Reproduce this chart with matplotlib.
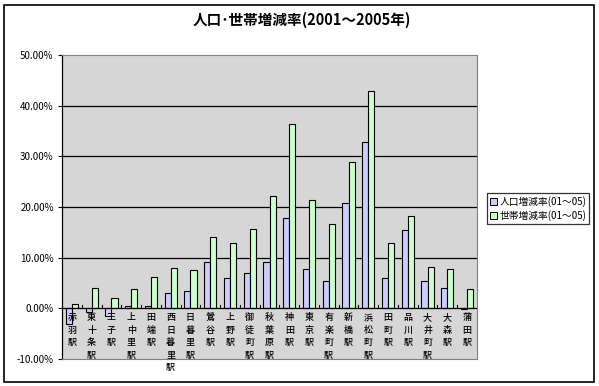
import numpy as np
import matplotlib
matplotlib.use("Agg")
import matplotlib.pyplot as plt
from matplotlib.patches import Rectangle
from matplotlib.ticker import FuncFormatter

plt.rcParams['font.family'] = ['Noto Sans CJK JP', 'DejaVu Sans']
plt.rcParams['font.size'] = 7

stations = ["赤羽駅", "東十条駅", "王子駅", "上中里駅", "田端駅", "西日暮里駅", "日暮里駅",
            "鶯谷駅", "上野駅", "御徒町駅", "秋葉原駅", "神田駅", "東京駅", "有楽町駅",
            "新橋駅", "浜松町駅", "田町駅", "品川駅", "大井町駅", "大森駅", "蒲田駅"]
# percent values
pop_rate = [-3.0, -0.8, -1.5, 0.4, 0.4, 3.0, 3.4, 9.1, 5.9, 6.9, 9.1, 17.8, 7.7, 5.3,
            20.8, 32.9, 5.9, 15.4, 5.3, 4.1, -0.2]
hh_rate = [0.8, 4.1, 2.1, 3.9, 6.2, 7.9, 7.5, 14.0, 12.8, 15.6, 22.1, 36.4, 21.4, 16.6,
           28.9, 42.8, 12.9, 18.2, 8.1, 7.7, 3.8]
legend_labels = ["人口増減率(01～05)", "世帯増減率(01～05)"]
title = "人口･世帯増減率(2001～2005年)"

pop_color = "#ccccff"
hh_color = "#ccffcc"

fig = plt.figure(figsize=(5.99, 3.86), dpi=100)
W, H = 599, 386

# outer chart border
fig.patches.append(Rectangle((4 / W, 1 - 382 / H), 590 / W, 377 / H, transform=fig.transFigure,
                             fill=False, edgecolor="black", linewidth=1.2))

ax = fig.add_axes([62 / W, 1 - 359 / H, 415 / W, 304 / H])
ax.set_facecolor("#d6d6d6")

x = np.arange(len(stations))
bw = 0.31
ax.bar(x - bw / 2, pop_rate, bw, color=pop_color, edgecolor="black", linewidth=0.8, zorder=3)
ax.bar(x + bw / 2, hh_rate, bw, color=hh_color, edgecolor="black", linewidth=0.8, zorder=3)

ax.set_xlim(-0.5, len(stations) - 0.5)
ax.set_ylim(-10, 50)
ax.set_yticks(np.arange(-10, 51, 10))
ax.yaxis.set_major_formatter(FuncFormatter(lambda v, p: "{:.2f}%".format(v)))
ax.tick_params(axis="y", length=3, width=0.8, pad=3, labelsize=7)
for v in range(10, 50, 10):
    ax.axhline(v, color="black", linewidth=0.9, zorder=1)
ax.set_xticks([])

# category axis at 0 with boundary ticks
ax.axhline(0, color="black", linewidth=0.9, zorder=4)
for b in np.arange(0.5, len(stations) - 0.5, 1):
    ax.plot([b, b], [0, 0.6], color="black", linewidth=0.8, zorder=4)

for i, name in enumerate(stations):
    ax.annotate("\n".join(name), (i, 0), xytext=(0, -3.5), textcoords="offset points",
                ha="center", va="top", fontsize=6.5, fontweight="medium", linespacing=1.5,
                zorder=5, annotation_clip=False)

for side in ["top", "right", "bottom"]:
    ax.spines[side].set_color("#808080")
    ax.spines[side].set_linewidth(0.8)
ax.spines["left"].set_color("black")
ax.spines["left"].set_linewidth(0.9)

fig.text(302 / W, 1 - 20 / H, title, ha="center", va="center", fontsize=10.5, fontweight="bold")

handles = [Rectangle((0, 0), 1, 1, facecolor=pop_color, edgecolor="black", linewidth=0.7),
           Rectangle((0, 0), 1, 1, facecolor=hh_color, edgecolor="black", linewidth=0.7)]
leg = fig.legend(handles, legend_labels, loc="upper left",
                 bbox_to_anchor=(487 / W, 1 - 193 / H), fontsize=7, frameon=True,
                 fancybox=False, edgecolor="black", handlelength=0.7, handleheight=0.7,
                 handletextpad=0.3, borderpad=0.3, labelspacing=0.3, borderaxespad=0)
leg.get_frame().set_linewidth(0.9)

fig.savefig("out.png", dpi=100)
